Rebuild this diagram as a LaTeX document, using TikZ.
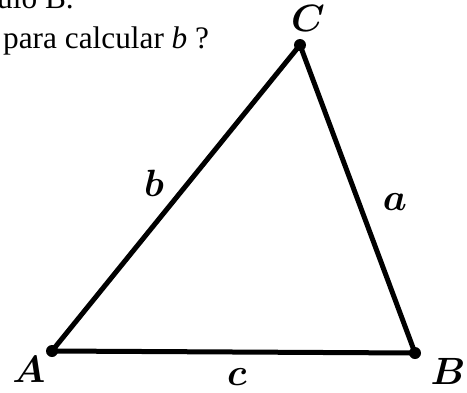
\RequirePackage{fix-cm}
\documentclass[tikz,border=0pt]{standalone}
\usepackage{amsmath}
\usepackage{fontspec}
\setmainfont{Liberation Serif}
\begin{document}
\begin{tikzpicture}[x=1pt,y=-1pt,
  side/.style={line width=5pt,line cap=round,line join=round},
  vdot/.style={circle,fill=black,inner sep=0pt,minimum size=12pt},
  lbl/.style={inner sep=0pt,font=\fontsize{38}{44}\selectfont},
  txt/.style={inner sep=0pt,anchor=base west,font=\fontsize{31.3}{38}\selectfont}]
\begin{scope}
\clip (0,0) rectangle (467,392);
\fill[white] (0,0) rectangle (467,392);
\node[txt] (t1) at (-3,8) {ulo B.};
\node[txt] (t2) at (3,48) {para calcular \textit{b} ?};
\coordinate (A) at (52,351);
\coordinate (B) at (415,353);
\coordinate (C) at (300,45);
\draw[side] (A) -- (B) -- (C) -- cycle;
\node[vdot] (dA) at (A) {};
\node[vdot] (dB) at (B) {};
\node[vdot] (dC) at (C) {};
\node[lbl] (lC) at (308,18) {$\boldsymbol{C}$};
\node[lbl] (lA) at (29,369) {$\boldsymbol{A}$};
\node[lbl] (lB) at (448,371) {$\boldsymbol{B}$};
\node[lbl] (lc) at (237,377) {$\boldsymbol{c}$};
\node[lbl] (lb) at (154,183) {$\boldsymbol{b}$};
\node[lbl] (la) at (395,202) {$\boldsymbol{a}$};
\end{scope}
\pgfresetboundingbox
\useasboundingbox (0,0) rectangle (467,392);
\end{tikzpicture}
\end{document}
